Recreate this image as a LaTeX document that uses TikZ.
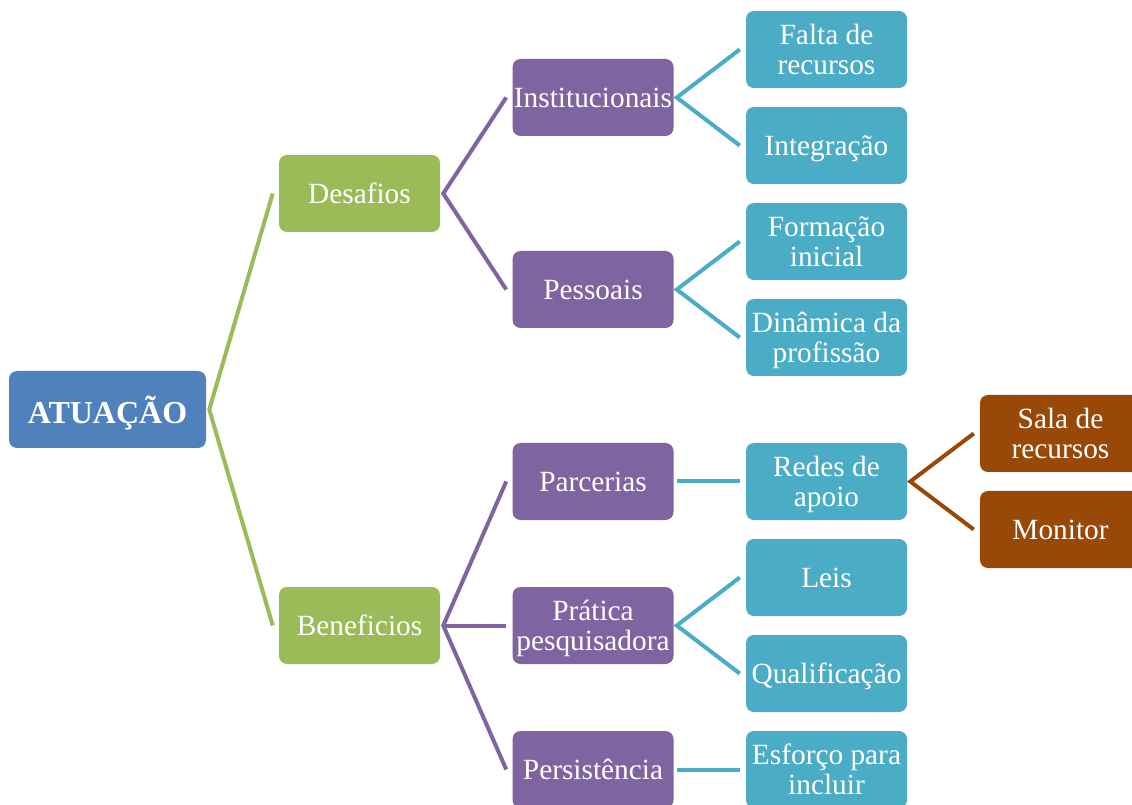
\documentclass[tikz,border=0pt]{standalone}
\usepackage{fontspec}
\setmainfont{Liberation Serif}
\definecolor{cblue}{HTML}{4F81BD}
\definecolor{cgreen}{HTML}{9BBB59}
\definecolor{cpurple}{HTML}{8064A2}
\definecolor{cteal}{HTML}{4BACC6}
\definecolor{cbrown}{HTML}{984807}
\newcommand\bx[2][3pt]{\raisebox{-#1}[\height][\depth]{\begin{tabular}{@{}c@{}}#2\end{tabular}}}
\tikzset{
  box/.style={rounded corners=6pt, text=white, align=center, inner sep=0pt,
    minimum width=120.75pt, minimum height=57.75pt,
    font=\fontsize{22}{22.5}\selectfont},
  rootbox/.style={box, fill=cblue, minimum width=147.75pt, font=\fontsize{24}{24}\selectfont\bfseries},
  lvone/.style={box, fill=cgreen},
  lvtwo/.style={box, fill=cpurple},
  lvthree/.style={box, fill=cteal},
  lvfour/.style={box, fill=cbrown},
  link/.style={line width=3pt, line join=miter},
}
\begin{document}
\begin{tikzpicture}[x=0.75pt, y=-0.75pt]
\useasboundingbox (0,0) rectangle (1132,805);
% nodes
\node[rootbox] (atu) at (107.5,409.5) {\bx[3.5pt]{ATUAÇÃO}};
\node[lvone] (des) at (359.5,193.5) {\bx{Desafios}};
\node[lvone] (ben) at (359.5,625.5) {\bx{Beneficios}};
\node[lvtwo] (ins) at (593,97.5) {\bx{Institucionais}};
\node[lvtwo] (pes) at (593,289.5) {\bx{Pessoais}};
\node[lvtwo] (par) at (593,481.5) {\bx{Parcerias}};
\node[lvtwo] (pra) at (593,625.5) {\bx{Prática\\pesquisadora}};
\node[lvtwo] (per) at (593,769.5) {\bx{Persistência}};
\node[lvthree] (fal) at (826.5,49.5) {\bx{Falta de\\recursos}};
\node[lvthree] (int) at (826.5,145.5) {\bx{Integração}};
\node[lvthree] (for) at (826.5,241.5) {\bx{Formação\\inicial}};
\node[lvthree] (din) at (826.5,337.5) {\bx{Dinâmica da\\profissão}};
\node[lvthree] (red) at (826.5,481.5) {\bx{Redes de\\apoio}};
\node[lvthree] (lei) at (826.5,577.5) {\bx{Leis}};
\node[lvthree] (qua) at (826.5,673.5) {\bx{Qualificação}};
\node[lvthree] (esf) at (826.5,769.5) {\bx{Esforço para\\incluir}};
\node[lvfour] (sal) at (1060.5,433.5) {\bx{Sala de\\recursos}};
\node[lvfour] (mon) at (1060.5,529.5) {\bx{Monitor}};
% connectors
\draw[link, cgreen] ([xshift=-4.5pt]des.west) -- ([xshift=2.25pt]atu.east) -- ([xshift=-4.5pt]ben.west);
\draw[link, cpurple] ([xshift=-4.5pt]ins.west) -- ([xshift=2.25pt]des.east) -- ([xshift=-4.5pt]pes.west);
\draw[link, cpurple] ([xshift=-4.5pt]par.west) -- ([xshift=2.25pt]ben.east) -- ([xshift=-4.5pt]per.west);
\draw[link, cpurple] ([xshift=2.25pt]ben.east) -- ([xshift=-4.5pt]pra.west);
\draw[link, cteal] ([xshift=-4.5pt]fal.west) -- ([xshift=2.25pt]ins.east) -- ([xshift=-4.5pt]int.west);
\draw[link, cteal] ([xshift=-4.5pt]for.west) -- ([xshift=2.25pt]pes.east) -- ([xshift=-4.5pt]din.west);
\draw[link, cteal] ([xshift=2.25pt]par.east) -- ([xshift=-4.5pt]red.west);
\draw[link, cteal] ([xshift=-4.5pt]lei.west) -- ([xshift=2.25pt]pra.east) -- ([xshift=-4.5pt]qua.west);
\draw[link, cteal] ([xshift=2.25pt]per.east) -- ([xshift=-4.5pt]esf.west);
\draw[link, cbrown] ([xshift=-4.5pt]sal.west) -- ([xshift=2.25pt]red.east) -- ([xshift=-4.5pt]mon.west);
\end{tikzpicture}
\end{document}
